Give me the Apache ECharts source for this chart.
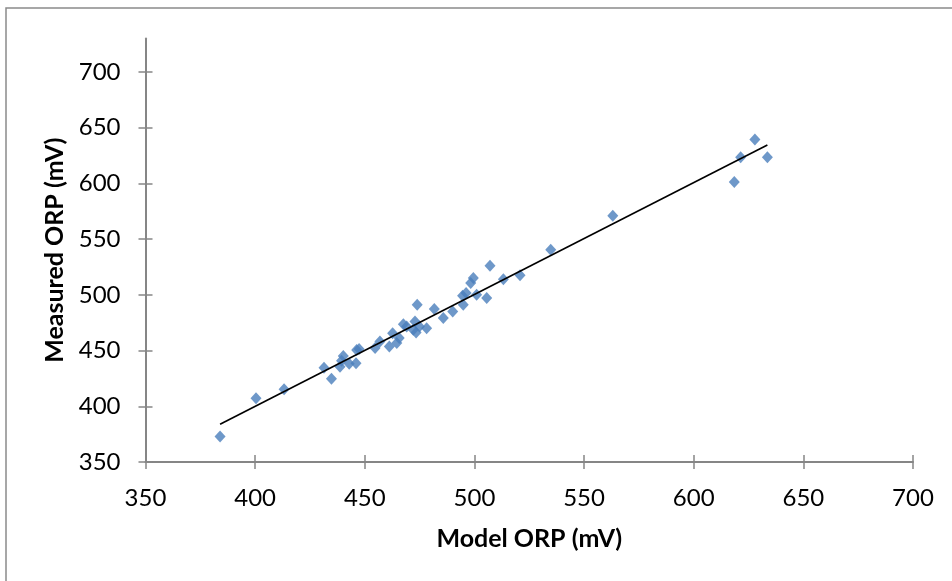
<!DOCTYPE html>
<html>
<head>
<meta charset="utf-8">
<script src="https://cdn.jsdelivr.net/npm/echarts@6/dist/echarts.min.js"></script>
<style>html,body{margin:0;padding:0;background:#fff}#c{width:952px;height:581px}</style>
</head>
<body>
<div id="c"></div>
<script>
// Model ORP (mV)
const modelORP = [384.0, 400.4, 413.2, 431.4, 434.8, 438.7, 440.2, 439.4, 442.9, 446.0,
  446.3, 447.4, 454.7, 456.9, 461.2, 462.7, 464.6, 465.7, 467.6, 469.1,
  472.9, 473.4, 473.9, 472.1, 474.9, 478.2, 481.7, 485.8, 490.1, 494.6,
  494.9, 496.2, 498.3, 499.5, 501.0, 505.6, 507.1, 513.2, 520.8, 534.8,
  563.1, 618.5, 621.4, 627.9, 633.6];
// Measured ORP (mV)
const measuredORP = [372.9, 407.2, 415.3, 434.5, 424.8, 435.4, 445.2, 440.8, 438.1, 438.7,
  450.6, 451.5, 452.2, 458.1, 453.6, 465.6, 456.7, 461.2, 473.7, 471.6,
  476.1, 466.2, 491.1, 468.6, 471.6, 470.1, 487.2, 479.1, 485.1, 499.2,
  491.1, 501.6, 510.6, 515.1, 500.1, 497.1, 526.1, 514.0, 517.6, 540.5,
  571.0, 601.3, 623.4, 639.3, 623.4];
const xTicks = [350, 400, 450, 500, 550, 600, 650, 700];
const yTicks = [350, 400, 450, 500, 550, 600, 650, 700];

const points = modelORP.map((x, i) => [x, measuredORP[i]]);
// least-squares trend line
const n = modelORP.length;
const mx = modelORP.reduce((a, b) => a + b, 0) / n;
const my = measuredORP.reduce((a, b) => a + b, 0) / n;
let sxy = 0, sxx = 0;
for (let i = 0; i < n; i++) { sxy += (modelORP[i] - mx) * (measuredORP[i] - my); sxx += (modelORP[i] - mx) ** 2; }
const slope = sxy / sxx, icpt = my - slope * mx;
const xMin = Math.min(...modelORP), xMax = Math.max(...modelORP);
const trend = [[xMin, icpt + slope * xMin], [xMax, icpt + slope * xMax]];

const FONT = 'Lato, "Open Sans", sans-serif';
const axisCol = '#868686';
const chart = echarts.init(document.getElementById('c'));
const baseX = {
  type: 'value', min: 350, max: 700, interval: 50,
  splitLine: { show: false }
};
const baseY = {
  type: 'value', min: 350, max: 730, interval: 50,
  splitLine: { show: false }
};
chart.setOption({
  animation: false,
  backgroundColor: '#fff',
  graphic: [{
    type: 'rect', shape: { x: 6, y: 8, width: 1200, height: 1000 },
    style: { fill: 'none', stroke: '#8a8a8a', lineWidth: 1.5 }, silent: true
  }],
  grid: { left: 145.5, right: 39, top: 38.5, bottom: 119, containLabel: false },
  xAxis: [
    Object.assign({}, baseX, {
      position: 'bottom',
      name: 'Model ORP (mV)', nameLocation: 'middle', nameGap: 64,
      nameTextStyle: { fontFamily: FONT, fontWeight: 'bold', fontSize: 25, color: '#000' },
      axisLine: { show: true, onZero: false, lineStyle: { color: axisCol, width: 2 } },
      axisTick: { show: true, inside: false, length: 7, lineStyle: { color: axisCol, width: 1.5 }, customValues: xTicks },
      axisLabel: { margin: 24, fontFamily: FONT, fontSize: 24, color: '#000', customValues: xTicks }
    }),
    Object.assign({}, baseX, {
      position: 'bottom',
      axisLine: { show: false, onZero: false },
      axisTick: { show: true, inside: true, length: 7, lineStyle: { color: axisCol, width: 1.5 }, customValues: xTicks },
      axisLabel: { show: false }
    })
  ],
  yAxis: [
    Object.assign({}, baseY, {
      position: 'left',
      name: 'Measured ORP (mV)', nameLocation: 'middle', nameGap: 75, nameRotate: 90,
      nameTextStyle: { fontFamily: FONT, fontWeight: 'bold', fontSize: 25, color: '#000' },
      axisLine: { show: true, onZero: false, lineStyle: { color: axisCol, width: 2 } },
      axisTick: { show: true, inside: false, length: 7, lineStyle: { color: axisCol, width: 1.5 }, customValues: yTicks },
      axisLabel: { margin: 25, fontFamily: FONT, fontSize: 24, color: '#000', customValues: yTicks }
    }),
    Object.assign({}, baseY, {
      position: 'left',
      axisLine: { show: false, onZero: false },
      axisTick: { show: true, inside: true, length: 7, lineStyle: { color: axisCol, width: 1.5 }, customValues: yTicks },
      axisLabel: { show: false }
    })
  ],
  series: [
    {
      type: 'line', data: trend, xAxisIndex: 0, yAxisIndex: 0,
      symbol: 'none', lineStyle: { color: '#000', width: 1.6 }, z: 3
    },
    {
      type: 'scatter', data: points, xAxisIndex: 0, yAxisIndex: 0,
      symbol: 'diamond', symbolSize: [11, 12],
      itemStyle: { color: '#4a7ebb' }, z: 2
    }
  ]
});
</script>
</body>
</html>
